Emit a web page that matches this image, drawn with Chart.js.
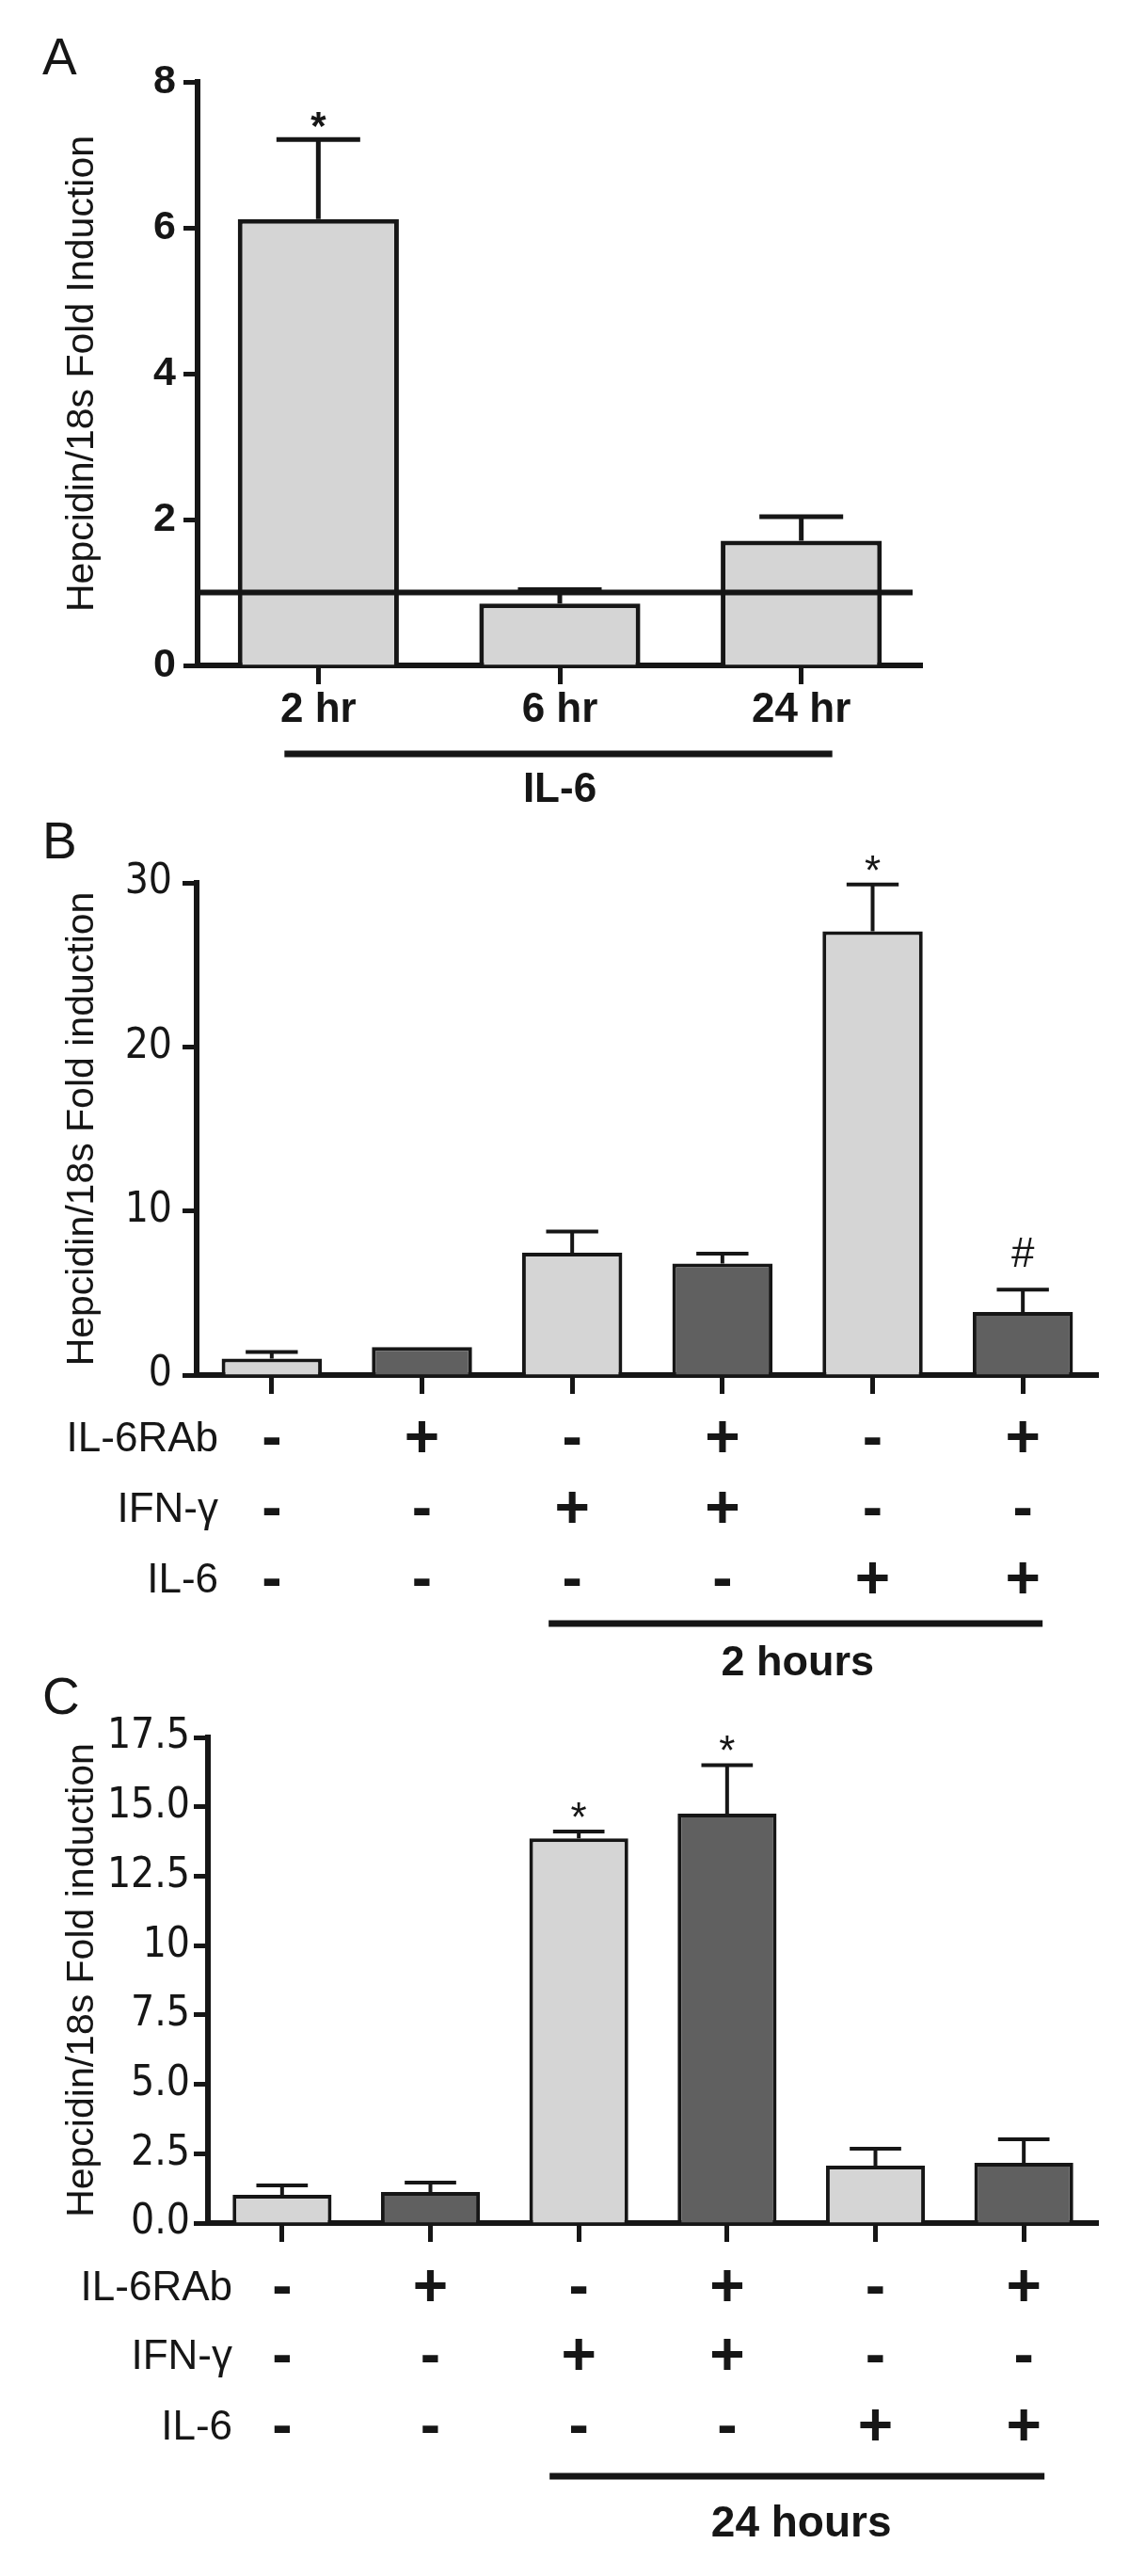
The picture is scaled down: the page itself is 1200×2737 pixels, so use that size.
<!DOCTYPE html>
<html>
<head>
<meta charset="utf-8">
<script src="https://cdn.jsdelivr.net/npm/chart.js@4.4.1/dist/chart.umd.min.js"></script>
<style>
  html, body { margin: 0; padding: 0; background: #fff; }
  #wrap { position: relative; width: 1200px; height: 2737px; }
  #wrap canvas { position: absolute; left: 0; top: 0; }
</style>
</head>
<body>
<div id="wrap">
  <canvas id="panel-a" width="1200" height="2737"></canvas>
  <canvas id="panel-b" width="1200" height="2737"></canvas>
  <canvas id="panel-c" width="1200" height="2737"></canvas>
</div>
<script>
// A: IL-6 time course
const hoursA = ['2 hr', '6 hr', '24 hr'];
const foldA = [6.12, 0.85, 1.71];
const semA = [1.09, 0.19, 0.33];
const marksA = ['*', '', ''];
const yTicksA = [0, 2, 4, 6, 8];

// B: 2 hours
const foldB = [1.0, 1.7, 7.45, 6.8, 27.05, 3.85];
const semB = [0.4, 0, 1.3, 0.6, 2.85, 1.35];
const marksB = ['', '', '', '', '*', '#'];
const yTicksB = [0, 10, 20, 30];

// C: 24 hours
const foldC = [1.02, 1.12, 13.86, 14.75, 2.07, 2.17];
const semC = [0.34, 0.34, 0.25, 1.75, 0.61, 0.85];
const marksC = ['', '', '*', '*', '', ''];
const yTicksC = [0, 2.5, 5, 7.5, 10, 12.5, 15, 17.5];
const yLabelsC = ['0.0', '2.5', '5.0', '7.5', '10', '12.5', '15.0', '17.5'];

// treatment table under B and C
const rowNames = ['IL-6RAb', 'IFN-γ', 'IL-6'];
const il6rab = ['-', '+', '-', '+', '-', '+'];
const ifng = ['-', '-', '+', '+', '-', '-'];
const il6 = ['-', '-', '-', '-', '+', '+'];

const ink = '#161616';
const light = '#d5d5d5';
const dark = '#606060';
const sans = "'Liberation Sans', Arial, sans-serif";
const narrow = "'Liberation Sans Narrow', 'Arial Narrow', 'DejaVu Sans Condensed', sans-serif";

// text baseline lift above the error cap, per mark
const markLift = { '*': 0, '#': 24 };

function annotate(p) {
  return {
    id: 'annot' + p.letter,
    afterDatasetsDraw(chart) {
      const { ctx, chartArea } = chart;
      const y = chart.scales.y;
      const bars = chart.getDatasetMeta(0).data;
      ctx.save();
      ctx.strokeStyle = ink;
      ctx.fillStyle = ink;

      // baseline reference (fold = 1)
      if (p.refLine != null) {
        const ry = y.getPixelForValue(p.refLine);
        ctx.lineWidth = 6;
        ctx.beginPath();
        ctx.moveTo(chartArea.left, ry);
        ctx.lineTo(chartArea.right - 10, ry);
        ctx.stroke();
      }

      // error bars (upper only)
      bars.forEach((bar, i) => {
        if (!p.sem[i]) return;
        const base = y.getPixelForValue(p.values[i]);
        const cap = y.getPixelForValue(p.values[i] + p.sem[i]);
        const half = bar.width * 0.26;
        ctx.lineWidth = p.errWidth;
        ctx.beginPath();
        ctx.moveTo(bar.x, base);
        ctx.lineTo(bar.x, cap);
        ctx.moveTo(bar.x - half, cap);
        ctx.lineTo(bar.x + half, cap);
        ctx.stroke();
      });

      // significance marks
      ctx.font = p.markFont;
      ctx.textAlign = 'center';
      ctx.textBaseline = 'alphabetic';
      bars.forEach((bar, i) => {
        const m = p.marks[i];
        if (!m) return;
        const cap = y.getPixelForValue(p.values[i] + p.sem[i]);
        ctx.fillText(m, bar.x, cap - markLift[m]);
      });

      // panel letter
      ctx.font = '55px ' + sans;
      ctx.textAlign = 'left';
      ctx.fillText(p.letter, 45, p.letterY);

      // treatment rows
      if (p.rows) {
        p.rows.forEach((signs, r) => {
          const ry = p.rowY[r];
          ctx.textBaseline = 'middle';
          ctx.font = '44px ' + sans;
          ctx.textAlign = 'right';
          ctx.fillText(rowNames[r], p.rowLabelRight, ry);
          ctx.font = 'bold 64px ' + sans;
          ctx.textAlign = 'center';
          signs.forEach((s, i) => ctx.fillText(s, bars[i].x, ry));
        });
      }

      // group bracket + label
      const g0 = bars[p.group[0]].x, g1 = bars[p.group[1]].x;
      ctx.lineWidth = 7;
      ctx.beginPath();
      ctx.moveTo(g0 + p.groupPad[0], p.groupLineY);
      ctx.lineTo(g1 + p.groupPad[1], p.groupLineY);
      ctx.stroke();
      ctx.font = p.groupFont;
      ctx.textAlign = 'center';
      ctx.textBaseline = 'middle';
      ctx.fillText(p.groupText, (g0 + g1) / 2, p.groupTextY);

      ctx.restore();
    }
  };
}

function makePanel(id, p) {
  return new Chart(document.getElementById(id), {
    type: 'bar',
    data: {
      labels: p.labels,
      datasets: [{
        data: p.values,
        backgroundColor: p.fills,
        borderColor: ink,
        borderWidth: p.barBorder,
        categoryPercentage: 1,
        barPercentage: 0.667,
      }],
    },
    options: {
      responsive: false,
      animation: false,
      devicePixelRatio: 1,
      layout: { padding: p.pad },
      plugins: { legend: { display: false }, tooltip: { enabled: false } },
      scales: {
        x: {
          afterFit: s => { s.height = p.xHeight; },
          border: { display: true, color: ink, width: 6 },
          grid: { offset: false, drawOnChartArea: false, drawTicks: true, tickLength: 20, tickWidth: 5, tickColor: ink, color: ink },
          ticks: { display: p.showX, color: ink, padding: 1, font: { family: sans, size: 44, weight: 'bold', lineHeight: 1.2 } },
        },
        y: {
          min: 0,
          max: p.yTicks[p.yTicks.length - 1],
          afterFit: s => { s.width = p.yWidth; },
          afterBuildTicks: s => { s.ticks = p.yTicks.map(v => ({ value: v })); },
          border: { display: true, color: ink, width: 6 },
          grid: { drawOnChartArea: false, drawTicks: true, tickLength: 15, tickWidth: 5, tickColor: ink, color: ink },
          ticks: {
            color: ink,
            padding: p.yPad,
            font: { family: p.yFamily, size: p.yFontSize, weight: p.yWeight, lineHeight: 1.2 },
            callback: (v, i) => p.yLabels[i],
          },
          title: {
            display: true,
            text: p.yTitle,
            color: ink,
            padding: { top: 63, bottom: 0 },
            font: { family: sans, size: 41, lineHeight: 1.2 },
          },
        },
      },
    },
    plugins: [annotate(p)],
  });
}

const pairFills = [light, dark, light, dark, light, dark];

makePanel('panel-a', {
  letter: 'A', letterY: 79,
  labels: hoursA, values: foldA, sem: semA, marks: marksA,
  fills: [light, light, light], barBorder: 5, errWidth: 5,
  markFont: 'bold 42px ' + sans,
  yTicks: yTicksA, yLabels: yTicksA.map(String),
  yTitle: 'Hepcidin/18s Fold Induction',
  yWidth: 210, yPad: 8, yFamily: sans, yFontSize: 43, yWeight: 'bold',
  xHeight: 100, showX: true,
  pad: { top: 87, left: 0, right: 220, bottom: 2737 - 707 - 100 },
  refLine: 1,
  group: [0, 2], groupPad: [-36, 33], groupLineY: 801,
  groupText: 'IL-6', groupTextY: 840, groupFont: 'bold 44px ' + sans,
});

makePanel('panel-b', {
  letter: 'B', letterY: 912,
  labels: il6rab.map((_, i) => 'B' + (i + 1)), values: foldB, sem: semB, marks: marksB,
  fills: pairFills, barBorder: 4, errWidth: 4,
  markFont: '44px ' + sans,
  yTicks: yTicksB, yLabels: yTicksB.map(String),
  yTitle: 'Hepcidin/18s Fold induction',
  yWidth: 209, yPad: 11, yFamily: narrow, yFontSize: 44, yWeight: 'normal',
  xHeight: 30, showX: false,
  pad: { top: 938, left: 0, right: 33, bottom: 2737 - 1461 - 30 },
  rows: [il6rab, ifng, il6], rowY: [1530, 1605, 1680], rowLabelRight: 232,
  group: [2, 5], groupPad: [-25, 21], groupLineY: 1725,
  groupText: '2 hours', groupTextY: 1768, groupFont: 'bold 45px ' + sans,
});

makePanel('panel-c', {
  letter: 'C', letterY: 1821,
  labels: il6rab.map((_, i) => 'C' + (i + 1)), values: foldC, sem: semC, marks: marksC,
  fills: pairFills, barBorder: 4, errWidth: 4,
  markFont: '44px ' + sans,
  yTicks: yTicksC, yLabels: yLabelsC,
  yTitle: 'Hepcidin/18s Fold induction',
  yWidth: 221, yPad: 4, yFamily: narrow, yFontSize: 44, yWeight: 'normal',
  xHeight: 30, showX: false,
  pad: { top: 1846, left: 0, right: 33, bottom: 2737 - 2362 - 30 },
  rows: [il6rab, ifng, il6], rowY: [2432, 2505, 2580], rowLabelRight: 247,
  group: [2, 5], groupPad: [-31, 22], groupLineY: 2631,
  groupText: '24 hours', groupTextY: 2682, groupFont: 'bold 46px ' + sans,
});
</script>
</body>
</html>
